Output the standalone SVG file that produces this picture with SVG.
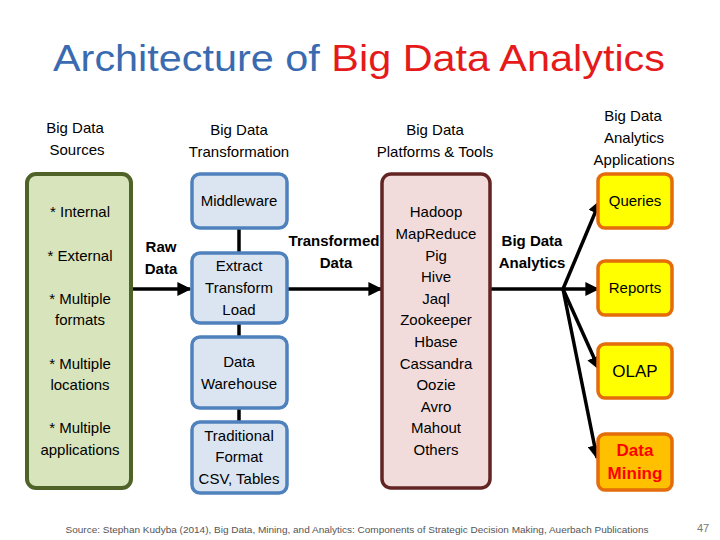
<svg xmlns="http://www.w3.org/2000/svg" width="720" height="540" viewBox="0 0 720 540">
<defs>
<marker id="ah" viewBox="0 0 10 10" refX="9" refY="5" markerWidth="4" markerHeight="4" orient="auto" markerUnits="strokeWidth">
<path d="M0,0 L10,5 L0,10 z" fill="#000"/>
</marker>
<style>
text{font-family:"Liberation Sans","DejaVu Sans",sans-serif;font-size:15px;fill:#000;text-anchor:middle}
.b{font-weight:bold}
.src{fill:#d8e4bc;stroke:#4f6228;stroke-width:4}
.tr{fill:#dbe5f1;stroke:#4f81bd;stroke-width:3.5}
.pl{fill:#f2dcdb;stroke:#632523;stroke-width:3.5}
.ap{fill:#ffff00;stroke:#e46c0a;stroke-width:3.5}
.dm{fill:#ffc000;stroke:#e46c0a;stroke-width:3.5}
.ln{stroke:#000;stroke-width:3.5;fill:none}
.ar{stroke:#000;stroke-width:3.5;fill:none;marker-end:url(#ah)}
</style>
</defs>
<rect width="720" height="540" fill="#fff"/>
<text x="359" y="71" style="font-size:36px" textLength="612" lengthAdjust="spacingAndGlyphs"><tspan fill="#3a6ab0">Architecture of </tspan><tspan fill="#e51b1b">Big Data Analytics</tspan></text>

<g id="headers">
<text x="75" y="133">Big Data</text><text x="77" y="155">Sources</text>
<text x="239" y="135">Big Data</text><text x="239" y="157">Transformation</text>
<text x="435" y="135">Big Data</text><text x="435" y="157">Platforms &amp; Tools</text>
<text x="633" y="121">Big Data</text><text x="634" y="143">Analytics</text><text x="634" y="165">Applications</text>
</g>

<g id="connectors">
<line class="ar" x1="131" y1="289" x2="190" y2="289"/>
<line class="ln" x1="239" y1="228" x2="239" y2="253"/>
<line class="ln" x1="239" y1="323" x2="239" y2="337"/>
<line class="ln" x1="239" y1="408" x2="239" y2="422"/>
<line class="ar" x1="287" y1="289" x2="381" y2="289"/>
<line class="ln" x1="490" y1="289" x2="563" y2="289"/>
<line class="ar" x1="563" y1="289" x2="600" y2="201"/>
<line class="ar" x1="563" y1="289" x2="598" y2="289"/>
<line class="ar" x1="563" y1="289" x2="599" y2="369"/>
<line class="ar" x1="563" y1="289" x2="597" y2="458"/>
<text class="b" x="161" y="252">Raw</text><text class="b" x="161" y="274">Data</text>
<text class="b" x="334" y="246">Transformed</text><text class="b" x="336" y="268">Data</text>
<text class="b" x="532" y="246">Big Data</text><text class="b" x="532" y="268">Analytics</text>
</g>

<g id="sources">
<rect class="src" x="27" y="174" width="104" height="314" rx="9"/>
<text x="80" y="217">* Internal</text>
<text x="80" y="261">* External</text>
<text x="80" y="304">* Multiple</text><text x="80" y="325">formats</text>
<text x="80" y="369">* Multiple</text><text x="80" y="390">locations</text>
<text x="80" y="433">* Multiple</text><text x="80" y="455">applications</text>
</g>

<g id="middleware"><rect class="tr" x="192" y="174" width="95" height="54" rx="8"/><text x="239" y="206">Middleware</text></g>
<g id="etl"><rect class="tr" x="192" y="253" width="95" height="70" rx="8"/><text x="239" y="271">Extract</text><text x="239" y="293">Transform</text><text x="239" y="315">Load</text></g>
<g id="warehouse"><rect class="tr" x="192" y="337" width="95" height="71" rx="8"/><text x="239" y="367">Data</text><text x="239" y="389">Warehouse</text></g>
<g id="traditional"><rect class="tr" x="192" y="422" width="95" height="71" rx="8"/><text x="239" y="441">Traditional</text><text x="239" y="462">Format</text><text x="239" y="484">CSV, Tables</text></g>

<g id="platforms">
<rect class="pl" x="382" y="174" width="108" height="314" rx="9"/>
<text x="436" y="217">Hadoop</text>
<text x="436" y="239">MapReduce</text>
<text x="436" y="261">Pig</text>
<text x="436" y="282">Hive</text>
<text x="436" y="304">Jaql</text>
<text x="436" y="325">Zookeeper</text>
<text x="436" y="347">Hbase</text>
<text x="436" y="369">Cassandra</text>
<text x="436" y="390">Oozie</text>
<text x="436" y="412">Avro</text>
<text x="436" y="433">Mahout</text>
<text x="436" y="455">Others</text>
</g>

<g id="queries"><rect class="ap" x="598" y="174" width="74" height="54" rx="7"/><text x="635" y="206">Queries</text></g>
<g id="reports"><rect class="ap" x="598" y="261" width="74" height="54" rx="7"/><text x="635" y="293">Reports</text></g>
<g id="olap"><rect class="ap" x="598" y="344" width="74" height="54" rx="7"/><text x="635" y="377" style="font-size:17px">OLAP</text></g>
<g id="mining"><rect class="dm" x="598" y="434" width="74" height="56" rx="7"/><text class="b" x="635" y="456" style="font-size:17px;fill:#ff0000">Data</text><text class="b" x="635" y="479" style="font-size:17px;fill:#ff0000">Mining</text></g>

<text x="357" y="533" style="font-size:9px;fill:#555" textLength="583" lengthAdjust="spacingAndGlyphs">Source: Stephan Kudyba (2014), Big Data, Mining, and Analytics: Components of Strategic Decision Making, Auerbach Publications</text>
<text x="703" y="532" style="font-size:11px;fill:#777">47</text>
</svg>
